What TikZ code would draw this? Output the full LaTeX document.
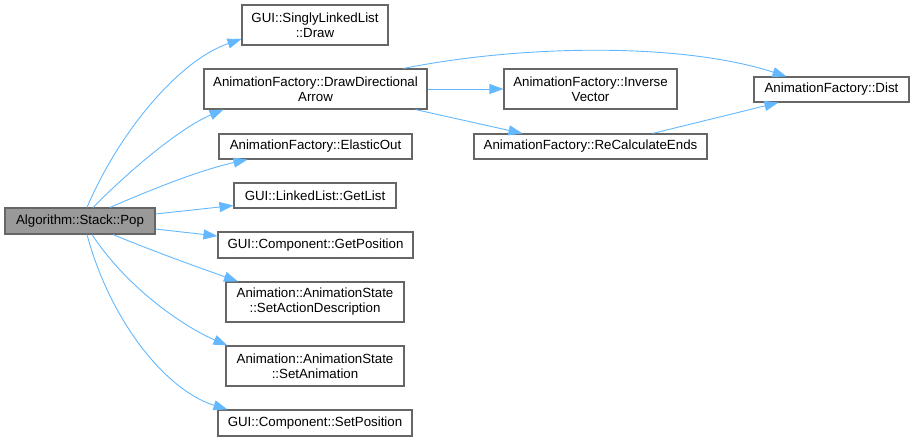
\documentclass[tikz,border=0pt]{standalone}
\usepackage{fontspec}
\setmainfont{Liberation Sans}
\usetikzlibrary{arrows.meta}
\definecolor{edgeblue}{RGB}{99,184,255}
\definecolor{boxborder}{RGB}{102,102,102}
\definecolor{popfill}{RGB}{153,153,153}
\begin{document}
\begin{tikzpicture}[x=1pt,y=-1pt,
  fn/.style={draw=boxborder,line width=1.1pt,fill=white,inner sep=0pt,align=center,
    font=\fontsize{13.3}{15}\selectfont},
  call/.style={draw=edgeblue,line width=0.9pt,-{Triangle[length=14pt,width=10pt]}}]
\useasboundingbox (0,0) rectangle (915,442);
\node[fn,fill=popfill,minimum width=150pt,minimum height=26pt] (pop) at (80,221) {Algorithm::Stack::Pop};
\node[fn,minimum width=146pt,minimum height=40pt] (draw) at (315,25) {GUI::SinglyLinkedList\\::Draw};
\node[fn,minimum width=223pt,minimum height=40pt] (dda) at (315.5,89) {AnimationFactory::DrawDirectional\\Arrow};
\node[fn,minimum width=193pt,minimum height=25pt] (elastic) at (315.5,146.5) {AnimationFactory::ElasticOut};
\node[fn,minimum width=162pt,minimum height=25pt] (getlist) at (315,195.5) {GUI::LinkedList::GetList};
\node[fn,minimum width=195pt,minimum height=26pt] (getpos) at (315.5,245) {GUI::Component::GetPosition};
\node[fn,minimum width=178pt,minimum height=40pt] (sad) at (315,302) {Animation::AnimationState\\::SetActionDescription};
\node[fn,minimum width=178pt,minimum height=40pt] (sanim) at (315,366) {Animation::AnimationState\\::SetAnimation};
\node[fn,minimum width=194pt,minimum height=26pt] (setpos) at (315,423) {GUI::Component::SetPosition};
\node[fn,minimum width=173pt,minimum height=40pt] (inv) at (590.5,89) {AnimationFactory::Inverse\\Vector};
\node[fn,minimum width=155pt,minimum height=25pt] (dist) at (831.5,89.5) {AnimationFactory::Dist};
\node[fn,minimum width=233pt,minimum height=25pt] (recalc) at (590.5,146.5) {AnimationFactory::ReCalculateEnds};

\draw[call] ([xshift=7pt]pop.north) .. controls (120,130) and (180,60) .. ([yshift=-14pt]draw.west);
\draw[call] ([xshift=13pt]pop.north) .. controls (130,170) and (180,128) .. ([xshift=-92pt]dda.south);
\draw[call] ([xshift=30pt]pop.north) .. controls (150,190) and (200,170) .. ([xshift=-68pt]elastic.south);
\draw[call] ([yshift=7pt]pop.east) -- ([yshift=-10pt]getlist.west);
\draw[call] ([yshift=-8pt]pop.east) -- ([yshift=9pt]getpos.west);
\draw[call] ([xshift=33pt]pop.south) .. controls (150,250) and (200,268) .. ([xshift=-77pt]sad.north);
\draw[call] ([xshift=12pt]pop.south) .. controls (125,285) and (180,325) .. ([xshift=2pt]sanim.north west);
\draw[call] ([xshift=7pt]pop.south) .. controls (110,320) and (165,390) .. ([xshift=10pt]setpos.north west);
\draw[call] ([xshift=88pt]dda.north) .. controls (520,45) and (680,42) .. ([xshift=-45pt]dist.north);
\draw[call] (dda.east) -- (inv.west);
\draw[call] ([xshift=100pt]dda.south) -- ([xshift=-68pt]recalc.north);
\draw[call] ([xshift=62pt]recalc.north) -- ([xshift=-53pt]dist.south);
\end{tikzpicture}
\end{document}
